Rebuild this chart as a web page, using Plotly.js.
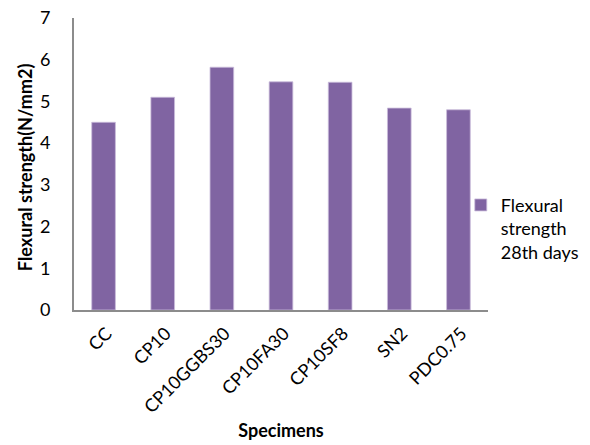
<!DOCTYPE html>
<html>
<head>
<meta charset="utf-8">
<script src="https://cdn.plot.ly/plotly-3.0.1.min.js"></script>
<style>
  html, body { margin: 0; padding: 0; background: #fff; }
  #chart { width: 590px; height: 445px; }
</style>
</head>
<body>
<div id="chart"></div>
<script>
// Specimen mixes and their 28-day flexural strength (N/mm2)
const specimens = ["CC", "CP10", "CP10GGBS30", "CP10FA30", "CP10SF8", "SN2", "PDC0.75"];
const flexural28 = [4.50, 5.10, 5.82, 5.47, 5.46, 4.84, 4.80];
const yTicks = [0, 1, 2, 3, 4, 5, 6, 7];
const seriesName = "Flexural<br>strength<br>28th days";
const yTitle = "Flexural strength(N/mm2)";
const xTitle = "Specimens";

const font = "Lato, 'Open Sans', sans-serif";

const trace = {
  type: "bar",
  x: specimens,
  y: flexural28,
  name: seriesName,
  marker: { color: "#8064A2", line: { color: "#C9BBDB", width: 0.8 } },
  width: 0.4,
  showlegend: true
};

const layout = {
  width: 590,
  height: 445,
  autosize: false,
  margin: { l: 74, r: 102, t: 18, b: 135, autoexpand: false },
  paper_bgcolor: "#fff",
  plot_bgcolor: "#fff",
  font: { family: font, size: 18, color: "#000" },
  showlegend: true,
  xaxis: {
    type: "category",
    automargin: false,
    showline: true,
    linecolor: "#8C8C8C",
    linewidth: 2,
    ticks: "",
    showgrid: false,
    tickangle: -45,
    tickfont: { family: font, size: 18, color: "#000" },
    ticklabelstandoff: 4,
    ticklabelshift: 3,
    title: { text: "<b>" + xTitle + "</b>", font: { family: font, size: 18, color: "#000" }, standoff: 8 }
  },
  yaxis: {
    range: [0, 7],
    tickvals: yTicks,
    automargin: false,
    showline: true,
    linecolor: "#8C8C8C",
    linewidth: 2,
    ticks: "",
    showgrid: false,
    zeroline: false,
    tickfont: { family: font, size: 18, color: "#000" },
    ticklabelstandoff: 18
  },
  // vertical axis caption, centred on the value axis
  annotations: [{
    xref: "paper", yref: "paper",
    x: -0.118, y: 0.5,
    xanchor: "center", yanchor: "middle",
    yshift: -3,
    textangle: -90,
    showarrow: false,
    text: "<b>" + yTitle + "</b>",
    font: { family: font, size: 18, color: "#000" }
  }],
  legend: {
    xref: "container",
    yref: "container",
    x: 0.781,
    xanchor: "left",
    y: 0.486,
    yanchor: "middle",
    valign: "top",
    font: { family: font, size: 18, color: "#000" },
    itemwidth: 30,
    bgcolor: "rgba(0,0,0,0)"
  }
};

Plotly.newPlot("chart", [trace], layout, { displayModeBar: false, staticPlot: true });
</script>
</body>
</html>
